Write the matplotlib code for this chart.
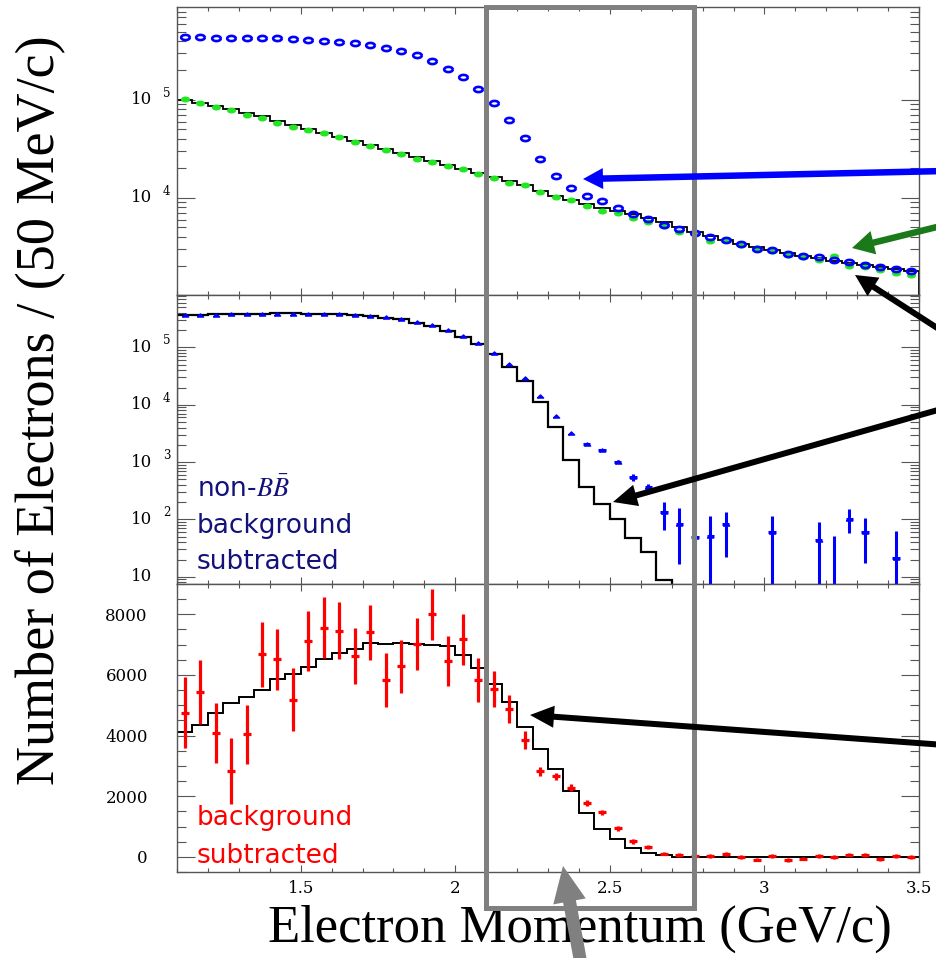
import numpy as np
import matplotlib
matplotlib.use("Agg")
import matplotlib.pyplot as plt
from matplotlib.patches import Rectangle, FancyArrow
from matplotlib.transforms import IdentityTransform, blended_transform_factory
from matplotlib.ticker import FixedLocator, FixedFormatter, MultipleLocator, LogLocator, NullFormatter

plt.rcParams['mathtext.fontset'] = 'stix'

# ---------------- data ----------------
# 50 MeV/c bins from 1.1 to 3.5 GeV/c
edges = np.linspace(1.1, 3.5, 49)
centers = 0.5 * (edges[:-1] + edges[1:])
nan = np.nan

# top panel: blue open circles, green dots, black MC line
top_blue = [443000, 436500, 432500, 432500, 429500, 429500, 426600, 418800, 409300, 402700,
            393600, 384600, 363900, 342000, 316200, 285800, 248300, 207000, 170200, 128500,
            92500, 62500, 40600, 25000, 16700, 12700, 10500, 9310, 7960, 6920,
            6150, 5300, 4790, 4430, 4030, 3720, 3400, 3040, 2970, 2690,
            2540, 2480, 2310, 2240, 2080, 1950, 1890, 1810]
top_green = [101600, 92500, 84300, 79100, 70300, 65000, 58600, 53500, 49400, 45700,
             42300, 37500, 34200, 30900, 28100, 25000, 23100, 21200, 19600, 17600,
             15900, 14100, 13400, 11400, 10300, 9550, 8280, 7360, 6980, 6210,
             5730, 5180, 4530, 4370, 3660, 3720, 3310, 3070, 2900, 2620,
             2520, 2330, 2580, 2040, 1990, 1840, 1730, 1640]
top_mc = [101000, 93500, 86500, 80000, 74000, 68000, 61500, 55500, 50500, 46000,
          42000, 38200, 34800, 31600, 28700, 26000, 23700, 21600, 19800, 18100,
          16500, 15000, 13400, 11800, 10500, 9500, 8600, 7900, 7300, 6800,
          6300, 5700, 5100, 4500, 4050, 3700, 3400, 3150, 2950, 2750,
          2570, 2420, 2280, 2170, 2080, 1990, 1880, 1780]

# middle panel: non-BB background subtracted (blue), MC histogram (black)
mid_data = [369000, 369000, 369000, 379000, 379000, 385000, 385000, 389000, 385000, 385000,
            379000, 369000, 355000, 336500, 310500, 278600, 243800, 202300, 158900, 118300,
            81300, 51500, 29000, 14300, 6380, 3260, 2070, 1630, 1020, 543,
            363, 136, 85, 50, 52, 82, nan, nan, 60, nan,
            nan, 44, 3, 104, 61, nan, 21, nan]
mid_err_lo = [0] * 26 + [60, 60, 60, 80, 60, 71, 68, 12, 50, 60, nan, nan, 58, nan, nan,
                         42, 2, 45, 43.5, nan, 20, nan]
mid_err_hi = [0] * 26 + [60, 60, 60, 80, 60, 68, 71, 12, 64, 54, nan, nan, 55, nan, nan,
                         45, 49, 46, 46, nan, 42, nan]
mid_mc = [369000, 373000, 378000, 382000, 385500, 389000, 391000, 391000, 389000, 384600,
          375800, 363000, 346700, 327300, 310500, 264200, 237100, 196300, 150700, 113800,
          77100, 45100, 26400, 11300, 4050, 1090, 372, 183, 100, 48,
          27, 8.7]

# bottom panel: background subtracted (red), MC histogram (black)
bot_data = [4750, 5430, 4090, 2825, 4040, 6680, 6510, 5190, 7115, 7560,
            7450, 6620, 7410, 5830, 6290, 7010, 8000, 6460, 7170, 5830,
            5540, 4880, 3850, 2825, 2660, 2280, 1780, 1470, 945, 515,
            330, 110, 65, 35, 35, 100, -15, -90, 20, -110,
            -55, 35, 0, 75, 55, -80, 20, 0]
bot_err = [1170, 1050, 990, 1090, 970, 1070, 1010, 1030, 990, 1000,
           940, 920, 910, 900, 870, 860, 840, 840, 830, 720,
           600, 460, 300, 150, 120, 110, 100, 90, 80, 80,
           70, 60] + [60] * 16
bot_mc = [4110, 4340, 4750, 5060, 5280, 5500, 5850, 6040, 6270, 6510,
          6710, 6870, 7040, 7010, 7060, 7010, 6980, 6970, 6650, 6240,
          5710, 5110, 4290, 3560, 2910, 2170, 1430, 930, 590, 285,
          130, 45, 10, 8, 6, 5, 5, 4, 4, 3,
          3, 3, 3, 2, 2, 2, 2, 2]

# tick labels
x_ticks = [1.5, 2.0, 2.5, 3.0, 3.5]
x_tick_labels = ['1.5', '2', '2.5', '3', '3.5']
top_ticks = [1e4, 1e5]
top_tick_exp = ['4', '5']
mid_ticks = [1e1, 1e2, 1e3, 1e4, 1e5]
mid_tick_exp = ['', '2', '3', '4', '5']
bot_ticks = [0, 2000, 4000, 6000, 8000]
bot_tick_labels = ['0', '2000', '4000', '6000', '8000']

# ---------------- figure ----------------
W, H = 937, 958
fig = plt.figure(figsize=(W / 100, H / 100), dpi=100)


def px_axes(x0, y0, x1, y1):
    return fig.add_axes([x0 / W, 1 - y1 / H, (x1 - x0) / W, (y1 - y0) / H])


ax1 = px_axes(177, 7, 919, 295)
ax2 = px_axes(177, 295, 919, 584)
ax3 = px_axes(177, 584, 919, 872)

SPINE = '#555555'
TICKFONT = dict(family='DejaVu Serif', size=12)


def style(ax):
    for s in ax.spines.values():
        s.set_color(SPINE)
        s.set_linewidth(1.0)
    ax.tick_params(which='both', direction='in', top=True, right=True,
                   colors=SPINE, labelcolor='black')
    ax.tick_params(axis='y', which='major', length=13, width=0.8)
    ax.tick_params(axis='y', which='minor', length=6.5, width=0.8)
    ax.tick_params(axis='x', which='major', length=5, width=0.8, pad=6)
    ax.tick_params(axis='x', which='minor', length=3, width=0.8)
    ax.set_xlim(edges[0], edges[-1])
    ax.xaxis.set_major_locator(FixedLocator(x_ticks))
    ax.xaxis.set_minor_locator(MultipleLocator(0.1))


for a in (ax1, ax2, ax3):
    style(a)

# ellipse and triangle markers
t = np.linspace(0, 2 * np.pi, 41)
ellipse = np.column_stack([np.cos(t), 0.6 * np.sin(t)])
tri = [(-1, -0.5), (1, -0.5), (0, 0.5), (-1, -0.5)]

# ---- top ----
ax1.set_yscale('log')
ax1.set_ylim(1020, 8.9e5)
ax1.stairs(top_mc, edges, color='black', lw=1.3, zorder=2)
ax1.plot(centers, top_green, ls='none', marker=ellipse, ms=5.5,
         mfc='#22e622', mec='#22e622', zorder=3)
ax1.plot(centers, top_blue, ls='none', marker=ellipse, ms=6.2,
         mfc='none', mec='#0000ff', mew=1.9, zorder=4)
ax1.set_xticklabels([])

# ---- middle ----
ax2.set_yscale('log')
ax2.set_ylim(7.5, 8.2e5)
ax2.stairs(mid_mc, edges[:len(mid_mc) + 1], baseline=1, color='black', lw=1.6, zorder=2)
md = np.array(mid_data, float)
lo = np.array(mid_err_lo, float)
hi = np.array(mid_err_hi, float)
has_err = np.isfinite(md) & (np.nan_to_num(hi) > 0)
ax2.errorbar(centers[has_err], md[has_err], yerr=[lo[has_err], hi[has_err]],
             xerr=0.012, fmt='none', ecolor='#0000ff', elinewidth=2.2, zorder=3)
ax2.plot(centers, md, ls='none', marker=tri, ms=4.5, mfc='#0000ff',
         mec='#0000ff', zorder=4)
ax2.set_xticklabels([])

# ---- bottom ----
ax3.set_ylim(-500, 9000)
ax3.stairs(bot_mc, edges, baseline=0, color='black', lw=1.4, zorder=2)
ax3.errorbar(centers, bot_data, yerr=bot_err, xerr=0.013, fmt='none',
             ecolor='#ff0000', elinewidth=2.3, zorder=3)
ax3.yaxis.set_major_locator(FixedLocator(bot_ticks))
ax3.yaxis.set_major_formatter(FixedFormatter(bot_tick_labels))
ax3.yaxis.set_minor_locator(MultipleLocator(500))
ax3.tick_params(axis='y', which='major', pad=21)
ax3.xaxis.set_major_formatter(FixedFormatter(x_tick_labels))
for lab in ax3.get_xticklabels() + ax3.get_yticklabels():
    lab.set_fontfamily(TICKFONT['family'])
    lab.set_fontsize(TICKFONT['size'])

# log panels: manual "10^n" labels
def log_labels(ax, vals, exps):
    ax.yaxis.set_major_locator(FixedLocator(vals))
    ax.yaxis.set_major_formatter(NullFormatter())
    ax.yaxis.set_minor_locator(LogLocator(base=10, subs=np.arange(2, 10)))
    ax.yaxis.set_minor_formatter(NullFormatter())
    tr = blended_transform_factory(ax.transAxes, ax.transData)
    axw = ax.get_position().width * W
    for v, e in zip(vals, exps):
        ax.text(-25 / axw, v, '10', transform=tr, ha='right', va='center',
                fontfamily=TICKFONT['family'], fontsize=TICKFONT['size'], clip_on=False)
        if e:
            ax.text(-14 / axw, v, e, transform=tr, ha='left', va='bottom',
                    fontfamily=TICKFONT['family'], fontsize=8.5, clip_on=False)


log_labels(ax1, top_ticks, top_tick_exp)
log_labels(ax2, mid_ticks, mid_tick_exp)

# panel annotations
NAVY = '#12127a'
for txt, y in [(r'non-$B\bar{B}$', 490), ('background', 526), ('subtracted', 562)]:
    fig.text(197 / W, 1 - y / H, txt, color=NAVY, fontsize=19, family='DejaVu Sans',
             ha='left', va='center')
for txt, y in [('background', 818), ('subtracted', 856)]:
    fig.text(197 / W, 1 - y / H, txt, color='#ff0000', fontsize=19, family='DejaVu Sans',
             ha='left', va='center')

# axis titles
fig.text(40 / W, 1 - 410 / H, 'Number of Electrons / (50 MeV/c)', rotation=90,
         ha='center', va='center', family='Liberation Serif', fontsize=39)
fig.text(580 / W, 1 - 929 / H, 'Electron Momentum (GeV/c)', ha='center', va='center',
         family='Liberation Serif', fontsize=38)

# gray highlight box
GRAY = '#808080'
fig.add_artist(Rectangle((486, H - 908), 208, 901, fill=False, edgecolor=GRAY, lw=3.6,
                         transform=IdentityTransform(), zorder=10))


def arrow(x0, y0, x1, y1, width, hw, hl, color):
    fig.add_artist(FancyArrow(x0, H - y0, x1 - x0, -(y1 - y0), width=width,
                              head_width=hw, head_length=hl, length_includes_head=True,
                              color=color, lw=0, transform=IdentityTransform(), zorder=11))


arrow(945, 171, 583, 179, 6.5, 21, 20, '#0000ff')
arrow(945, 225, 852, 248, 6.5, 24, 22, '#1a7a1a')
arrow(945, 333, 855, 275, 6, 22, 22, '#000000')
arrow(945, 408, 613, 502, 6, 22, 24, '#000000')
arrow(945, 745, 530, 715, 6, 22, 24, '#000000')
arrow(583, 975, 563, 866, 13, 33, 36, GRAY)

fig.savefig('out.png', dpi=100)
